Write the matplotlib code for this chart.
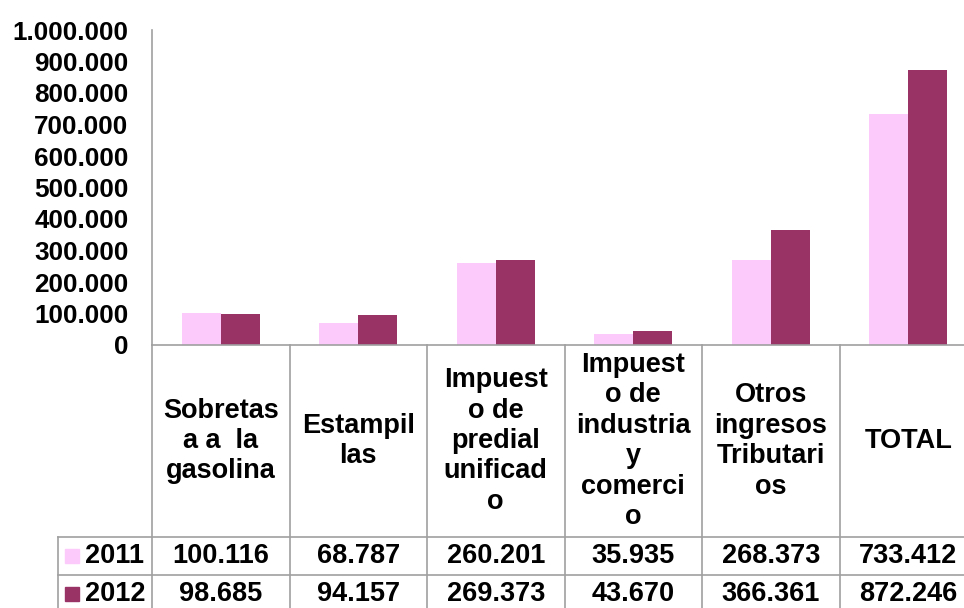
import matplotlib.pyplot as plt
import matplotlib.transforms as mtransforms
from matplotlib.patches import Rectangle

categorias = ["Sobretas\na a  la\ngasolina", "Estampil\nlas",
              "Impuest\no de\npredial\nunificad\no",
              "Impuest\no de\nindustria\ny\ncomerci\no",
              "Otros\ningresos\nTributari\nos", "TOTAL"]
anios = ["2011", "2012"]
v2011 = [100116, 68787, 260201, 35935, 268373, 733412]
v2012 = [98685, 94157, 269373, 43670, 366361, 872246]
yticks = list(range(0, 1000001, 100000))

col2011 = "#fccbfc"
col2012 = "#993366"
gris = "#a0a0a0"

def fmt(n):
    return f"{n:,}".replace(",", ".")

plt.rcParams['font.family'] = ['Liberation Sans', 'DejaVu Sans']
plt.rcParams['font.weight'] = 'bold'
fs = 19.5
fs_tick = 18.8

fig = plt.figure(figsize=(9.64, 6.08), dpi=100)
ax = fig.add_axes([152/964, (608-345)/608, 825/964, 315/608])

bw = 0.285
xs = [i + 0.5 for i in range(len(categorias))]
ax.bar([x - bw/2 for x in xs], v2011, bw, color=col2011, zorder=2)
ax.bar([x + bw/2 for x in xs], v2012, bw, color=col2012, zorder=2)

ax.set_xlim(0, len(categorias))
ax.set_ylim(0, 1000000)
ax.set_yticks(yticks)
ax.set_yticklabels([fmt(t) for t in yticks], fontsize=fs_tick, fontweight='bold')
ax.tick_params(axis='y', length=0, pad=17)
ax.set_xticks([])
for s in ['top', 'right']:
    ax.spines[s].set_visible(False)
for s in ['left', 'bottom']:
    ax.spines[s].set_color(gris)
    ax.spines[s].set_linewidth(1.2)

tr = mtransforms.blended_transform_factory(ax.transData, ax.transAxes)

def py(p):
    return (345 - p) / 315

y_head = py(537)
y_r1 = py(575)
y_r2 = py(613)
x_leg = (58 - 152) / 137.5

lw = 1.2
for i in range(len(categorias) + 1):
    ax.plot([i, i], [0, y_r2], color=gris, lw=lw, transform=tr, clip_on=False)
for y in [y_head, y_r1, y_r2]:
    ax.plot([x_leg, len(categorias)], [y, y], color=gris, lw=lw, transform=tr, clip_on=False)
ax.plot([x_leg, x_leg], [y_head, y_r2], color=gris, lw=lw, transform=tr, clip_on=False)

for x, c in zip(xs, categorias):
    ax.text(x, py(441), c, ha='center', va='center', fontsize=fs, fontweight='bold',
            linespacing=1.22, transform=tr, clip_on=False)

filas = [v2011, v2012]
colores = [col2011, col2012]
for j, (anio, vals, col) in enumerate(zip(anios, filas, colores)):
    yc = py(556 + 38 * j)
    ax.add_patch(Rectangle(((65 - 152) / 137.5, yc - 7/315), 14/137.5, 14/315,
                           color=col, transform=tr, clip_on=False))
    ax.text((85 - 152) / 137.5, yc, anio, ha='left', va='center', fontsize=fs,
            fontweight='bold', transform=tr, clip_on=False)
    for x, v in zip(xs, vals):
        ax.text(x, yc, fmt(v), ha='center', va='center', fontsize=fs,
                fontweight='bold', transform=tr, clip_on=False)

fig.savefig("out.png", dpi=100)
